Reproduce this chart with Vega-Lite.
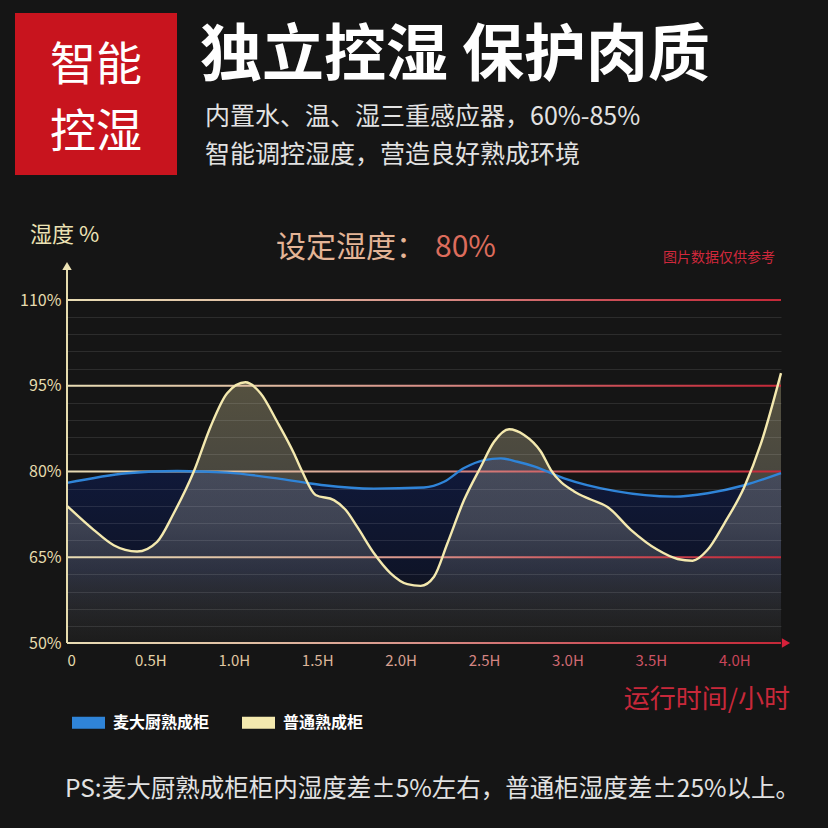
{
  "$schema": "https://vega.github.io/schema/vega-lite/v6.json",
  "width": 714,
  "height": 343,
  "autosize": {"type": "none"},
  "padding": {"left": 67, "top": 300, "right": 47, "bottom": 185},
  "background": "#151515",
  "config": {
    "view": {"stroke": null},
    "font": "Noto Sans CJK SC",
    "legend": {
      "orient": "none", "legendX": -1, "legendY": 400, "direction": "horizontal",
      "symbolType": "stroke", "symbolStrokeWidth": 12, "symbolSize": 1089,
      "labelColor": "#ffffff", "labelFontSize": 16, "labelFontWeight": "bold", "labelFont": "Noto Sans CJK SC",
      "columnPadding": 8, "labelOffset": 2
    }
  },
  "datasets": {
    "curves": [
      {"t": 0, "v": 78.0, "s": "麦大厨熟成柜"},
      {"t": 0.36, "v": 79.7, "s": "麦大厨熟成柜"},
      {"t": 0.66, "v": 80.1, "s": "麦大厨熟成柜"},
      {"t": 0.96, "v": 79.8, "s": "麦大厨熟成柜"},
      {"t": 1.26, "v": 78.8, "s": "麦大厨熟成柜"},
      {"t": 1.46, "v": 77.9, "s": "麦大厨熟成柜"},
      {"t": 1.54, "v": 77.6, "s": "麦大厨熟成柜"},
      {"t": 1.84, "v": 77.0, "s": "麦大厨熟成柜"},
      {"t": 2.14, "v": 77.2, "s": "麦大厨熟成柜"},
      {"t": 2.26, "v": 78.2, "s": "麦大厨熟成柜"},
      {"t": 2.38, "v": 80.6, "s": "麦大厨熟成柜"},
      {"t": 2.50, "v": 82.0, "s": "麦大厨熟成柜"},
      {"t": 2.60, "v": 82.3, "s": "麦大厨熟成柜"},
      {"t": 2.70, "v": 81.7, "s": "麦大厨熟成柜"},
      {"t": 2.80, "v": 80.9, "s": "麦大厨熟成柜"},
      {"t": 2.98, "v": 78.8, "s": "麦大厨熟成柜"},
      {"t": 3.28, "v": 76.6, "s": "麦大厨熟成柜"},
      {"t": 3.64, "v": 75.6, "s": "麦大厨熟成柜"},
      {"t": 3.84, "v": 76.2, "s": "麦大厨熟成柜"},
      {"t": 4.06, "v": 77.6, "s": "麦大厨熟成柜"},
      {"t": 4.28, "v": 79.7, "s": "麦大厨熟成柜"},
      {"t": 0, "v": 74.0, "s": "普通熟成柜"},
      {"t": 0.16, "v": 69.8, "s": "普通熟成柜"},
      {"t": 0.28, "v": 67.1, "s": "普通熟成柜"},
      {"t": 0.42, "v": 66.0, "s": "普通熟成柜"},
      {"t": 0.54, "v": 67.7, "s": "普通熟成柜"},
      {"t": 0.64, "v": 72.7, "s": "普通熟成柜"},
      {"t": 0.76, "v": 80.0, "s": "普通熟成柜"},
      {"t": 0.86, "v": 87.8, "s": "普通熟成柜"},
      {"t": 0.96, "v": 93.7, "s": "普通熟成柜"},
      {"t": 1.07, "v": 95.6, "s": "普通熟成柜"},
      {"t": 1.16, "v": 93.7, "s": "普通熟成柜"},
      {"t": 1.26, "v": 88.7, "s": "普通熟成柜"},
      {"t": 1.36, "v": 83.2, "s": "普通熟成柜"},
      {"t": 1.41, "v": 80.0, "s": "普通熟成柜"},
      {"t": 1.49, "v": 75.9, "s": "普通熟成柜"},
      {"t": 1.60, "v": 75.0, "s": "普通熟成柜"},
      {"t": 1.67, "v": 73.3, "s": "普通熟成柜"},
      {"t": 1.74, "v": 70.3, "s": "普通熟成柜"},
      {"t": 1.84, "v": 65.7, "s": "普通熟成柜"},
      {"t": 1.94, "v": 62.2, "s": "普通熟成柜"},
      {"t": 2.04, "v": 60.3, "s": "普通熟成柜"},
      {"t": 2.12, "v": 60.0, "s": "普通熟成柜"},
      {"t": 2.20, "v": 61.6, "s": "普通熟成柜"},
      {"t": 2.28, "v": 67.4, "s": "普通熟成柜"},
      {"t": 2.38, "v": 75.0, "s": "普通熟成柜"},
      {"t": 2.48, "v": 80.8, "s": "普通熟成柜"},
      {"t": 2.56, "v": 85.2, "s": "普通熟成柜"},
      {"t": 2.65, "v": 87.4, "s": "普通熟成柜"},
      {"t": 2.74, "v": 86.4, "s": "普通熟成柜"},
      {"t": 2.84, "v": 83.5, "s": "普通熟成柜"},
      {"t": 2.90, "v": 80.3, "s": "普通熟成柜"},
      {"t": 3.04, "v": 76.5, "s": "普通熟成柜"},
      {"t": 3.14, "v": 75.1, "s": "普通熟成柜"},
      {"t": 3.24, "v": 73.8, "s": "普通熟成柜"},
      {"t": 3.38, "v": 69.8, "s": "普通熟成柜"},
      {"t": 3.54, "v": 66.3, "s": "普通熟成柜"},
      {"t": 3.66, "v": 64.7, "s": "普通熟成柜"},
      {"t": 3.75, "v": 64.4, "s": "普通熟成柜"},
      {"t": 3.84, "v": 66.3, "s": "普通熟成柜"},
      {"t": 3.94, "v": 70.9, "s": "普通熟成柜"},
      {"t": 4.06, "v": 77.3, "s": "普通熟成柜"},
      {"t": 4.16, "v": 84.9, "s": "普通熟成柜"},
      {"t": 4.28, "v": 97.2, "s": "普通熟成柜"}
    ],
    "majors": [{"v": 110}, {"v": 95}, {"v": 80}, {"v": 65}, {"v": 50}]
  },
  "data": {"name": "curves"},
  "encoding": {
    "x": {
      "field": "t", "type": "quantitative",
      "scale": {"domain": [0, 4.28], "nice": false, "zero": false},
      "axis": {
        "values": [0, 0.5, 1, 1.5, 2, 2.5, 3, 3.5, 4],
        "labelExpr": "datum.value == 0 ? '0' : format(datum.value, '.1f') + 'H'",
        "title": null, "domain": false, "ticks": false, "grid": false,
        "labelFontSize": 15, "labelPadding": 10, "labelFont": "Noto Sans CJK SC",
        "labelColor": {
          "condition": [
            {"test": "datum.value < 0.25", "value": "#e6dcae"},
            {"test": "datum.value < 0.75", "value": "#e4d2a6"},
            {"test": "datum.value < 1.25", "value": "#e0c6a0"},
            {"test": "datum.value < 1.75", "value": "#dcb69a"},
            {"test": "datum.value < 2.25", "value": "#d8a090"},
            {"test": "datum.value < 2.75", "value": "#d48482"},
            {"test": "datum.value < 3.25", "value": "#d06a72"},
            {"test": "datum.value < 3.75", "value": "#cc5464"}
          ],
          "value": "#c84458"
        },
        "zindex": 1
      }
    },
    "y": {
      "field": "v", "type": "quantitative",
      "scale": {"domain": [50, 110], "nice": false, "zero": false},
      "axis": {
        "values": [50, 53, 56, 59, 62, 65, 68, 71, 74, 77, 80, 83, 86, 89, 92, 95, 98, 101, 104, 107, 110],
        "labelExpr": "datum.value % 15 == 5 ? datum.value + '%' : ''",
        "title": null, "domain": false, "ticks": false, "grid": true,
        "gridColor": "#ffffff",
        "gridOpacity": {"condition": {"test": "datum.value % 15 == 5", "value": 0}, "value": 0.1},
        "labelFontSize": 16, "labelPadding": 6, "labelColor": "#e6dcae", "labelFont": "Noto Sans CJK SC",
        "zindex": 1
      }
    }
  },
  "layer": [
    {
      "transform": [{"filter": "datum.s == '麦大厨熟成柜'"}],
      "mark": {
        "type": "area", "interpolate": "monotone",
        "fill": {"gradient": "linear", "x1": 0, "x2": 0, "y1": 0, "y2": 1,
          "stops": [
            {"offset": 0, "color": "rgba(16,26,62,0.95)"},
            {"offset": 0.6, "color": "rgba(13,20,46,0.8)"},
            {"offset": 1, "color": "rgba(21,21,21,0)"}
          ]}
      },
      "encoding": {"y2": {"datum": 50}}
    },
    {
      "transform": [{"filter": "datum.s == '普通熟成柜'"}],
      "mark": {
        "type": "area", "interpolate": "monotone",
        "fill": {"gradient": "linear", "x1": 0, "x2": 0, "y1": 0, "y2": 1,
          "stops": [
            {"offset": 0, "color": "rgba(236,222,160,0.3)"},
            {"offset": 0.55, "color": "rgba(230,226,205,0.22)"},
            {"offset": 1, "color": "rgba(200,200,200,0.04)"}
          ]}
      },
      "encoding": {"y2": {"datum": 50}}
    },
    {
      "data": {"name": "majors"},
      "mark": {
        "type": "rule", "strokeWidth": 2, "y2Offset": 0.05,
        "stroke": {"gradient": "linear", "x1": 0, "x2": 1, "y1": 0, "y2": 0,
          "stops": [
            {"offset": 0, "color": "#e8dcb4"},
            {"offset": 0.25, "color": "#e0c0a4"},
            {"offset": 0.5, "color": "#d89088"},
            {"offset": 0.75, "color": "#cc5058"},
            {"offset": 1, "color": "#c42838"}
          ]}
      },
      "encoding": {
        "x": {"value": 0},
        "x2": {"value": "width"},
        "y": {"field": "v", "type": "quantitative"},
        "y2": {"field": "v"}
      }
    },
    {
      "mark": {"type": "line", "interpolate": "monotone", "strokeWidth": 2.4},
      "encoding": {
        "color": {
          "field": "s", "type": "nominal",
          "scale": {"domain": ["麦大厨熟成柜", "普通熟成柜"], "range": ["#2f84d8", "#f4e9ae"]},
          "legend": {"title": null}
        }
      }
    },
    {
      "data": {"values": [{}]},
      "mark": {"type": "rule", "stroke": "#e6dcae", "strokeWidth": 2},
      "encoding": {"x": {"value": 0}, "y": {"value": -32}, "y2": {"value": 343}}
    },
    {
      "data": {"values": [{}]},
      "mark": {"type": "point", "shape": "triangle-up", "filled": true, "fill": "#ece2b4", "size": 90, "opacity": 1},
      "encoding": {"x": {"value": 0}, "y": {"value": -34}}
    },
    {
      "data": {"values": [{}]},
      "mark": {"type": "point", "shape": "triangle-right", "filled": true, "fill": "#d8203a", "size": 90, "opacity": 1},
      "encoding": {"x": {"value": 719}, "y": {"value": 343}}
    },
    {
      "data": {"values": [{}]},
      "mark": {"type": "rect", "fill": "#c8141e"},
      "encoding": {"x": {"value": -52}, "x2": {"value": 110}, "y": {"value": -287}, "y2": {"value": -125}}
    },
    {
      "data": {"values": [{"label": "智能\n控湿"}]},
      "mark": {"type": "text", "fontSize": 46, "lineHeight": 67, "lineBreak": "\n", "color": "#ffffff", "align": "center", "baseline": "middle", "font": "Noto Sans CJK SC"},
      "encoding": {"x": {"value": 29}, "y": {"value": -234}, "text": {"field": "label"}}
    },
    {
      "data": {"values": [{"label": "独立控湿 保护肉质"}]},
      "mark": {"type": "text", "fontSize": 62, "fontWeight": "bold", "color": "#ffffff", "align": "left", "baseline": "middle", "font": "Noto Sans CJK SC"},
      "encoding": {"x": {"value": 133}, "y": {"value": -243}, "text": {"field": "label"}}
    },
    {
      "data": {"values": [{"label": "内置水、温、湿三重感应器，60%-85%"}]},
      "mark": {"type": "text", "fontSize": 25, "color": "#e2e2e2", "align": "left", "baseline": "middle", "font": "Noto Sans CJK SC"},
      "encoding": {"x": {"value": 138}, "y": {"value": -183}, "text": {"field": "label"}}
    },
    {
      "data": {"values": [{"label": "智能调控湿度，营造良好熟成环境"}]},
      "mark": {"type": "text", "fontSize": 25, "color": "#e2e2e2", "align": "left", "baseline": "middle", "font": "Noto Sans CJK SC"},
      "encoding": {"x": {"value": 138}, "y": {"value": -145}, "text": {"field": "label"}}
    },
    {
      "data": {"values": [{"label": "湿度 %"}]},
      "mark": {"type": "text", "fontSize": 22, "color": "#ece2b4", "align": "left", "baseline": "middle", "font": "Noto Sans CJK SC"},
      "encoding": {"x": {"value": -37}, "y": {"value": -65}, "text": {"field": "label"}}
    },
    {
      "data": {"values": [{"label": "设定湿度："}]},
      "mark": {"type": "text", "fontSize": 30, "color": "#e4b496", "align": "left", "baseline": "middle", "font": "Noto Sans CJK SC"},
      "encoding": {"x": {"value": 209}, "y": {"value": -52}, "text": {"field": "label"}}
    },
    {
      "data": {"values": [{"label": "80%"}]},
      "mark": {"type": "text", "fontSize": 30, "color": "#dc6c5c", "align": "left", "baseline": "middle", "font": "Noto Sans CJK SC"},
      "encoding": {"x": {"value": 368}, "y": {"value": -52}, "text": {"field": "label"}}
    },
    {
      "data": {"values": [{"label": "图片数据仅供参考"}]},
      "mark": {"type": "text", "fontSize": 14, "color": "#d0283c", "align": "left", "baseline": "middle", "font": "Noto Sans CJK SC"},
      "encoding": {"x": {"value": 596}, "y": {"value": -42}, "text": {"field": "label"}}
    },
    {
      "data": {"values": [{"label": "运行时间/小时"}]},
      "mark": {"type": "text", "fontSize": 26, "color": "#c8283a", "align": "right", "baseline": "middle", "font": "Noto Sans CJK SC"},
      "encoding": {"x": {"value": 723}, "y": {"value": 400}, "text": {"field": "label"}}
    },
    {
      "data": {"values": [{"label": "PS:麦大厨熟成柜柜内湿度差±5%左右，普通柜湿度差±25%以上。"}]},
      "mark": {"type": "text", "fontSize": 24.5, "color": "#e2e2e2", "align": "left", "baseline": "middle", "font": "Noto Sans CJK SC"},
      "encoding": {"x": {"value": -2}, "y": {"value": 490}, "text": {"field": "label"}}
    }
  ]
}
